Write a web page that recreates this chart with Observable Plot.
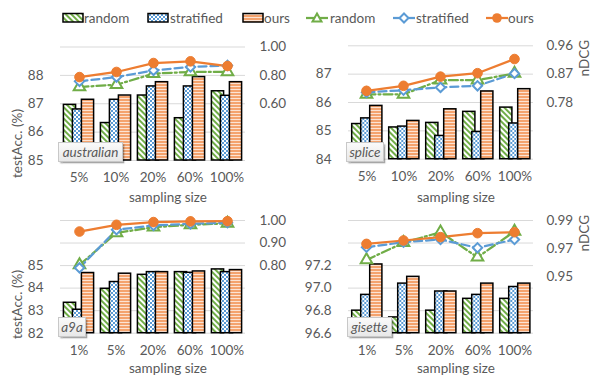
<!DOCTYPE html>
<html>
<head>
<meta charset="utf-8">
<script src="https://cdn.jsdelivr.net/npm/d3@7"></script>
<script src="https://cdn.jsdelivr.net/npm/@observablehq/plot@0.6"></script>
<style>
  body { margin: 0; background: white; }
  #chart { position: relative; width: 593px; height: 375px; background: white; font-family: Lato, "Open Sans", sans-serif; color: #595959; overflow: hidden; }
  .abs { position: absolute; }
  .txt { position: absolute; font-size: 13.5px; line-height: 14px; white-space: nowrap; color: #595959; }
  .vtxt { position: absolute; font-size: 13.5px; line-height: 14px; white-space: nowrap; color: #595959; writing-mode: vertical-rl; transform: rotate(180deg); }
  .tag { position: absolute; background: linear-gradient(#fafafa, #e8e8e8); border: 1px solid #c8c8c8; box-shadow: 1.5px 1.5px 1.5px rgba(0,0,0,0.35); font-style: italic; font-size: 13.5px; line-height: 18px; color: #595959; padding: 0 2px; box-sizing: border-box; text-align: center; }
</style>
</head>
<body>
<svg width="0" height="0" style="position:absolute">
  <defs>
    <pattern id="patRandom" width="4" height="4" patternUnits="userSpaceOnUse" patternTransform="rotate(-45)">
      <rect x="0" y="0" width="4" height="4" fill="white"/>
      <rect x="0" y="0" width="2" height="4" fill="#70AD47"/>
    </pattern>
    <pattern id="patStrat" width="4" height="4" patternUnits="userSpaceOnUse">
      <rect x="0" y="0" width="4" height="4" fill="white"/>
      <rect x="0" y="0" width="2" height="2" fill="#5B9BD5"/>
      <rect x="2" y="2" width="2" height="2" fill="#5B9BD5"/>
    </pattern>
    <pattern id="patOurs" width="4" height="3" patternUnits="userSpaceOnUse">
      <rect x="0" y="0" width="4" height="3" fill="#F4A36E"/>
      <rect x="0" y="2" width="4" height="1" fill="#FCE3D3"/>
    </pattern>
  </defs>
</svg>
<div id="chart"></div>
<script>
// ---------- data ----------
const seriesNames = ["random", "stratified", "ours"];
const catsTop = ["5%", "10%", "20%", "60%", "100%"];
const catsBottom = ["1%", "5%", "20%", "60%", "100%"];

// australian: test accuracy (%)
const australianAccRandom = [86.96, 86.32, 87.29, 86.49, 87.44];
const australianAccStratified = [86.80, 87.14, 87.61, 87.61, 87.28];
const australianAccOurs = [87.14, 87.29, 87.76, 87.94, 87.76];
// australian: nDCG
const australianNdcgRandom = [0.718, 0.734, 0.812, 0.824, 0.824];
const australianNdcgStratified = [0.758, 0.788, 0.835, 0.859, 0.870];
const australianNdcgOurs = [0.788, 0.824, 0.887, 0.899, 0.866];

// splice
const spliceAccRandom = [85.24, 85.12, 85.28, 85.67, 85.82];
const spliceAccStratified = [85.44, 85.15, 84.82, 84.96, 85.26];
const spliceAccOurs = [85.88, 85.35, 85.76, 86.39, 86.47];
const spliceNdcgRandom = [0.806, 0.806, 0.851, 0.851, 0.872];
const spliceNdcgStratified = [0.812, 0.819, 0.828, 0.833, 0.872];
const spliceNdcgOurs = [0.817, 0.833, 0.862, 0.873, 0.918];

// a9a
const a9aAccRandom = [83.35, 83.97, 84.59, 84.71, 84.83];
const a9aAccStratified = [83.04, 84.27, 84.71, 84.68, 84.71];
const a9aAccOurs = [84.67, 84.64, 84.71, 84.74, 84.80];
const a9aNdcgRandom = [0.803, 0.945, 0.970, 0.981, 0.987];
const a9aNdcgStratified = [0.790, 0.959, 0.978, 0.985, 0.990];
const a9aNdcgOurs = [0.951, 0.981, 0.993, 0.996, 0.997];

// gisette
const gisetteAccRandom = [96.80, 96.74, 96.80, 96.905, 96.905];
const gisetteAccStratified = [96.94, 97.04, 96.97, 96.94, 97.01];
const gisetteAccOurs = [97.21, 97.10, 96.97, 97.04, 97.04];
const gisetteNdcgRandom = [0.962, 0.9742, 0.9817, 0.9639, 0.9822];
const gisetteNdcgStratified = [0.971, 0.9746, 0.9765, 0.9706, 0.9765];
const gisetteNdcgOurs = [0.9734, 0.9758, 0.9782, 0.981, 0.9817];

// axis ticks
const australianGrid = [85, 86, 87, 88, 89];
const australianAccTicks = [85, 86, 87, 88];
const australianNdcgDomain = [0.2, 1.0];
const australianNdcgTicks = [0.6, 0.8, 1.0];
const spliceGrid = [84, 85, 86, 87, 88];
const spliceAccTicks = [84, 85, 86, 87];
const spliceNdcgDomain = [0.6, 0.96];
const spliceNdcgTicks = [0.78, 0.87, 0.96];
const a9aGrid = [82, 83, 84, 85, 86, 87];
const a9aAccTicks = [82, 83, 84, 85];
const a9aNdcgDomain = [0.5, 1.0];
const a9aNdcgTicks = [0.8, 0.9, 1.0];
const gisetteGrid = [96.6, 96.8, 97.0, 97.2, 97.4, 97.6];
const gisetteAccTicks = [96.6, 96.8, 97.0, 97.2];
const gisetteNdcgDomain = [0.91, 0.99];
const gisetteNdcgTicks = [0.95, 0.97, 0.99];

// ---------- styling ----------
const patterns = {random: "url(#patRandom)", stratified: "url(#patStrat)", ours: "url(#patOurs)"};
const lineColors = {random: "#70AD47", stratified: "#5B9BD5", ours: "#ED7D31"};
const dashes = {random: "9,3,2,3", stratified: "8,4", ours: null};
const FONT = "Lato, 'Open Sans', sans-serif";
const chart = document.getElementById("chart");

function panel(cfg) {
  const W = 300, H = 175;
  const rows = [];
  cfg.cats.forEach((c, i) => seriesNames.forEach((s, j) => rows.push({cat: c, series: s, value: cfg.acc[j][i]})));
  const lineRows = seriesNames.map((s, j) => cfg.cats.map((c, i) => ({cat: c, series: s, value: cfg.ndcg[j][i]})));
  const margins = {marginLeft: cfg.mL, marginRight: cfg.mR, marginTop: cfg.mT, marginBottom: cfg.mB};
  const baseStyle = {background: "transparent", fontFamily: FONT, fontSize: "13.5px", color: "#595959", overflow: "visible"};

  const bars = Plot.plot({
    width: W, height: H, ...margins,
    style: baseStyle,
    facet: {data: rows, x: "cat"},
    fx: {domain: cfg.cats, padding: 0, label: null, tickSize: 0, tickPadding: 12, axis: "bottom"},
    x: {domain: seriesNames, paddingInner: 0, paddingOuter: 0.49, axis: null},
    y: {domain: [cfg.grid[0], cfg.grid[cfg.grid.length - 1]], ticks: cfg.accTicks, tickFormat: cfg.accFmt, tickSize: 0, tickPadding: 17, label: null},
    color: {type: "identity"},
    marks: [
      Plot.ruleY(cfg.grid, {stroke: "#d9d9d9", strokeWidth: 1}),
      Plot.barY(rows, {x: "series", y1: cfg.grid[0], y2: "value", fill: d => patterns[d.series], stroke: "black", strokeWidth: 1.5, insetLeft: -1.6, insetRight: -1.6})
    ]
  });
  const lineMarks = [];
  seriesNames.forEach((s, j) => {
    lineMarks.push(Plot.line(lineRows[j], {x: "cat", y: "value", stroke: lineColors[s], strokeWidth: 2.25, strokeDasharray: dashes[s]}));
  });
  seriesNames.forEach((s, j) => {
    if (s === "random") lineMarks.push(Plot.dot(lineRows[j], {x: "cat", y: "value", symbol: "triangle", r: 4.3, fill: "white", stroke: lineColors[s], strokeWidth: 2}));
    if (s === "stratified") lineMarks.push(Plot.dot(lineRows[j], {x: "cat", y: "value", symbol: "diamond2", r: 4.2, fill: "white", stroke: lineColors[s], strokeWidth: 2}));
    if (s === "ours") lineMarks.push(Plot.dot(lineRows[j], {x: "cat", y: "value", r: 4.8, fill: lineColors[s], stroke: lineColors[s], strokeWidth: 1}));
  });
  const lines = Plot.plot({
    width: W, height: H, ...margins,
    style: baseStyle,
    x: {type: "point", domain: cfg.cats, padding: 0.5, axis: null},
    y: {domain: cfg.ndcgDomain, axis: "right", ticks: cfg.ndcgTicks, tickFormat: d3.format(".2f"), tickSize: 0, tickPadding: 12, label: null},
    marks: lineMarks
  });
  for (const svg of [bars, lines]) {
    const d = document.createElement("div");
    d.className = "abs";
    d.style.left = cfg.left + "px";
    d.style.top = cfg.top + "px";
    d.style.width = W + "px";
    d.style.height = H + "px";
    d.appendChild(svg);
    chart.appendChild(d);
  }
  const tag = document.createElement("div");
  tag.className = "tag";
  tag.textContent = cfg.name;
  tag.style.left = cfg.tag[0] + "px";
  tag.style.top = cfg.tag[1] + "px";
  tag.style.width = cfg.tag[2] + "px";
  tag.style.height = "20px";
  chart.appendChild(tag);
}

const intFmt = d => String(d);
const decFmt = d3.format(".1f");

panel({name: "australian", left: 0, top: 30, mL: 58, mR: 53, mT: 16.5, mB: 45, cats: catsTop,
  acc: [australianAccRandom, australianAccStratified, australianAccOurs],
  ndcg: [australianNdcgRandom, australianNdcgStratified, australianNdcgOurs],
  grid: australianGrid, accTicks: australianAccTicks, accFmt: intFmt,
  ndcgDomain: australianNdcgDomain, ndcgTicks: australianNdcgTicks, tag: [58, 142, 65]});
panel({name: "splice", left: 293, top: 30, mL: 53.7, mR: 59, mT: 15.3, mB: 46.3, cats: catsTop,
  acc: [spliceAccRandom, spliceAccStratified, spliceAccOurs],
  ndcg: [spliceNdcgRandom, spliceNdcgStratified, spliceNdcgOurs],
  grid: spliceGrid, accTicks: spliceAccTicks, accFmt: intFmt,
  ndcgDomain: spliceNdcgDomain, ndcgTicks: spliceNdcgTicks, tag: [346, 142, 38]});
panel({name: "a9a", left: 0, top: 200, mL: 58, mR: 53, mT: 20, mB: 42.3, cats: catsBottom,
  acc: [a9aAccRandom, a9aAccStratified, a9aAccOurs],
  ndcg: [a9aNdcgRandom, a9aNdcgStratified, a9aNdcgOurs],
  grid: a9aGrid, accTicks: a9aAccTicks, accFmt: intFmt,
  ndcgDomain: a9aNdcgDomain, ndcgTicks: a9aNdcgTicks, tag: [58, 317, 28]});
panel({name: "gisette", left: 293, top: 200, mL: 53.7, mR: 59, mT: 20, mB: 42.3, cats: catsBottom,
  acc: [gisetteAccRandom, gisetteAccStratified, gisetteAccOurs],
  ndcg: [gisetteNdcgRandom, gisetteNdcgStratified, gisetteNdcgOurs],
  grid: gisetteGrid, accTicks: gisetteAccTicks, accFmt: decFmt,
  ndcgDomain: gisetteNdcgDomain, ndcgTicks: gisetteNdcgTicks, tag: [347, 317, 45]});

// ---------- axis titles ----------
function text(str, x, y, vertical) {
  const d = document.createElement("div");
  d.className = vertical ? "vtxt" : "txt";
  d.textContent = str;
  chart.appendChild(d);
  const w = d.offsetWidth, h = d.offsetHeight;
  d.style.left = (x - w / 2) + "px";
  d.style.top = (y - h / 2) + "px";
  return d;
}
text("sampling size", 168, 197);
text("sampling size", 456, 197);
text("sampling size", 168, 368);
text("sampling size", 456, 368);
text("testAcc. (%)", 17, 143, true);
text("testAcc. (%)", 17, 304, true);
text("nDCG", 584, 58, true);
text("nDCG", 584, 233, true);

// ---------- legend ----------
const NS = "http://www.w3.org/2000/svg";
function legendBar(key, x, label, tx) {
  const svg = document.createElementNS(NS, "svg");
  svg.setAttribute("width", 23); svg.setAttribute("height", 12);
  svg.style.position = "absolute"; svg.style.left = x + "px"; svg.style.top = "12px";
  svg.innerHTML = `<rect x="1" y="1.5" width="20" height="8.5" fill="${patterns[key]}" stroke="black" stroke-width="1.5"/>`;
  chart.appendChild(svg);
  const t = document.createElement("div"); t.className = "txt"; t.textContent = label;
  t.style.left = tx + "px"; t.style.top = "11px"; chart.appendChild(t);
}
function legendLine(key, x, label, tx) {
  const svg = document.createElementNS(NS, "svg");
  svg.setAttribute("width", 24); svg.setAttribute("height", 14);
  svg.style.position = "absolute"; svg.style.left = x + "px"; svg.style.top = "11px";
  const c = lineColors[key];
  let marker = "";
  if (key === "random") marker = `<path d="M12,2.5 L16.5,10.5 L7.5,10.5 Z" fill="white" stroke="${c}" stroke-width="2"/>`;
  if (key === "stratified") marker = `<path d="M12,2.5 L16.5,7 L12,11.5 L7.5,7 Z" fill="white" stroke="${c}" stroke-width="2"/>`;
  if (key === "ours") marker = `<circle cx="12" cy="7" r="4.8" fill="${c}"/>`;
  svg.innerHTML = `<line x1="1" y1="7" x2="23" y2="7" stroke="${c}" stroke-width="2.25"/>` + marker;
  chart.appendChild(svg);
  const t = document.createElement("div"); t.className = "txt"; t.textContent = label;
  t.style.left = tx + "px"; t.style.top = "11px"; chart.appendChild(t);
}
legendBar("random", 62, "random", 84);
legendBar("stratified", 147, "stratified", 170);
legendBar("ours", 242, "ours", 264);
legendLine("random", 305, "random", 330);
legendLine("stratified", 392, "stratified", 416);
legendLine("ours", 485, "ours", 508);
</script>
</body>
</html>
